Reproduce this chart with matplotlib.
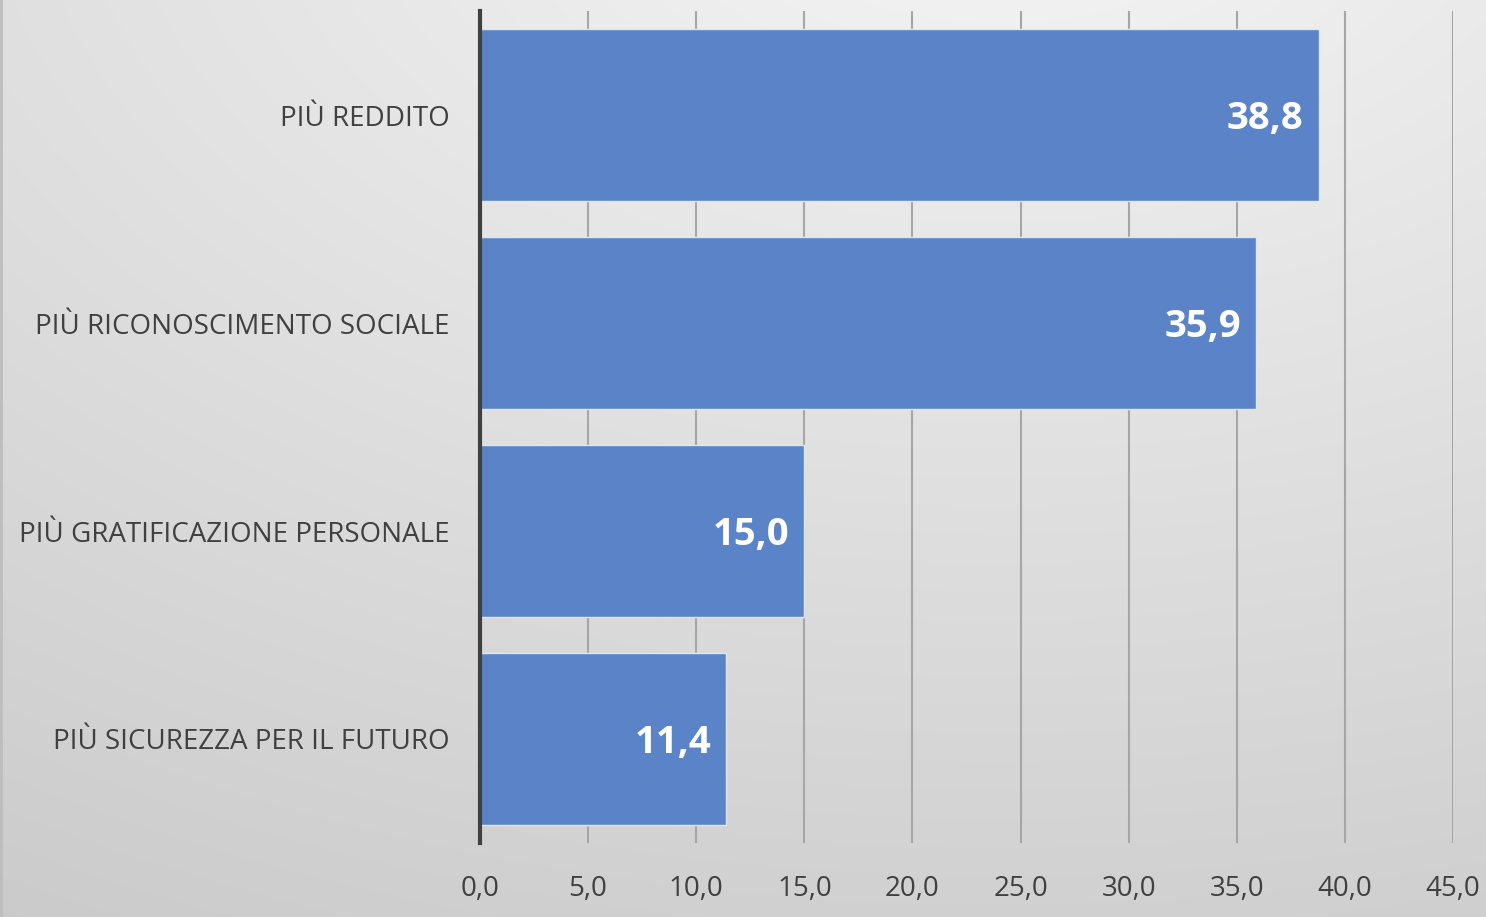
import numpy as np
import matplotlib
matplotlib.use('Agg')
import matplotlib.pyplot as plt

categories = ['PIÙ REDDITO', 'PIÙ RICONOSCIMENTO SOCIALE',
              'PIÙ GRATIFICAZIONE PERSONALE', 'PIÙ SICUREZZA PER IL FUTURO']
values = [38.8, 35.9, 15.0, 11.4]
xticks = [0, 5, 10, 15, 20, 25, 30, 35, 40, 45]

plt.rcParams['font.family'] = ['Open Sans', 'DejaVu Sans']

fig = plt.figure(figsize=(14.86, 9.17), dpi=100)

# radial gradient background
bg = fig.add_axes([0, 0, 1, 1], zorder=0)
h, w = 917, 1486
yy, xx = np.mgrid[0:h, 0:w]
d = np.sqrt(((xx - 1000) / w) ** 2 + ((yy + 150) / h) ** 2)
d = np.clip(d / d.max(), 0, 1)
shade = 0.965 - 0.17 * d
bg.imshow(np.dstack([shade, shade, shade]), aspect='auto', extent=[0, 1, 0, 1])
bg.axvline(0.001, color='#bdbdbd', lw=2)
bg.set_axis_off()

ax = fig.add_axes([0.323, 0.0807, 0.6548, 0.9073], zorder=1)
ax.patch.set_alpha(0)

y = np.arange(len(categories))
ax.barh(y, values, height=0.826, color='#5b84c8', edgecolor='#dde6f4', linewidth=1, zorder=2)
for yi, v in zip(y, values):
    ax.annotate(f'{v:.1f}'.replace('.', ','), (v, yi), xytext=(-11, -3),
                textcoords='offset points', ha='right', va='center',
                color='white', fontsize=27.5, fontweight='bold', zorder=3)

ax.set_xlim(0, 45)
ax.set_ylim(3.5, -0.5)
ax.set_xticks(xticks)
ax.set_xticklabels([f'{t:.1f}'.replace('.', ',') for t in xticks], fontsize=20, color='#404040')
ax.set_yticks(y)
ax.set_yticklabels(categories, fontsize=20, color='#404040')
ax.tick_params(axis='both', length=0)
ax.tick_params(axis='x', pad=23)
ax.tick_params(axis='y', pad=22)
ax.grid(axis='x', color='#a6a6a6', lw=1.5, zorder=1)
ax.set_axisbelow(True)
for s in ['top', 'right', 'bottom']:
    ax.spines[s].set_visible(False)
ax.spines['left'].set_color('#404040')
ax.spines['left'].set_linewidth(3)
ax.spines['left'].set_zorder(4)

fig.savefig('out.png', dpi=100)
